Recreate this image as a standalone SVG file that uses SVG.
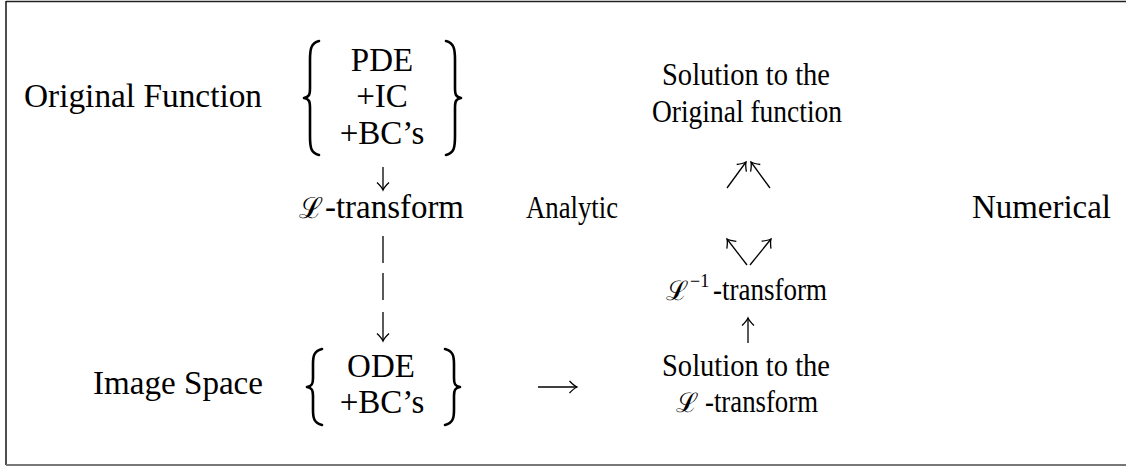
<svg xmlns="http://www.w3.org/2000/svg" width="1126" height="467" viewBox="0 0 1126 467">
<style>
text{font-family:"Liberation Serif","Times New Roman",serif;font-size:33px;fill:#000}
.mid{text-anchor:middle}
.sm{font-size:31px}
.cal{font-family:"DejaVu Serif","Liberation Serif",serif;font-size:29px}
.calsm{font-family:"DejaVu Serif","Liberation Serif",serif;font-size:27px}
.sup{font-size:18px}
.brace{fill:none;stroke:#000;stroke-width:2.6;stroke-linejoin:round;stroke-linecap:round}
.conn{fill:none;stroke:#000;stroke-width:1.3}
.frame{fill:none;stroke:#222;stroke-width:1.6}
</style>
<defs>
<marker id="cmhead" markerUnits="userSpaceOnUse" markerWidth="20" markerHeight="20" viewBox="-10 -10 20 20" refX="0" refY="0" orient="auto">
<path d="M-7.5,-6 Q-3,-1.3 0,0 Q-3,1.3 -7.5,6" fill="none" stroke="#000" stroke-width="1.3"/>
</marker>
</defs>
<rect width="1126" height="467" fill="#fff"/>
<g id="frame">
<path class="frame" d="M6,1.5 H1126 M6,1 V465"/>
<path d="M6,465 H1126" stroke="#777" stroke-width="2" fill="none"/>
</g>
<g id="original-function"><text x="24" y="107" textLength="238" lengthAdjust="spacingAndGlyphs">Original Function</text></g>
<g id="pde-system">
<path class="brace" d="M319,41 C311,43 310,49 310,60 L310,88 C310,95 309,97 304,98 C309,99 310,101 310,108 L310,136 C310,148 311,153 319,155"/>
<text class="mid" x="382" y="71">PDE</text>
<text class="mid" x="382" y="107">+IC</text>
<text class="mid" x="382" y="144">+BC’s</text>
<path class="brace" d="M446,41 C454,43 455,49 455,60 L455,88 C455,95 456,97 461,98 C456,99 455,101 455,108 L455,136 C455,148 454,153 446,155"/>
</g>
<g id="l-transform">
<text class="cal" x="299" y="218">ℒ</text>
<text x="325" y="218" textLength="139" lengthAdjust="spacingAndGlyphs">-transform</text>
</g>
<g id="analytic"><text class="sm" x="526" y="218" textLength="92" lengthAdjust="spacingAndGlyphs">Analytic</text></g>
<g id="numerical"><text x="972" y="218" textLength="139" lengthAdjust="spacingAndGlyphs">Numerical</text></g>
<g id="image-space"><text x="93" y="394" textLength="170" lengthAdjust="spacingAndGlyphs">Image Space</text></g>
<g id="ode-system">
<path class="brace" d="M322,349 C314,351 313,356 313,364 L313,378 C313,384 312,386 307,387 C312,388 313,390 313,396 L313,410 C313,418 314,423 322,425"/>
<text class="mid" x="381" y="377">ODE</text>
<text class="mid" x="382" y="413">+BC’s</text>
<path class="brace" d="M445,349 C453,351 454,356 454,364 L454,378 C454,384 455,386 460,387 C455,388 454,390 454,396 L454,410 C454,418 453,423 445,425"/>
</g>
<g id="solution-original">
<text class="sm mid" x="746" y="85" textLength="168" lengthAdjust="spacingAndGlyphs">Solution to the</text>
<text class="sm mid" x="747" y="122" textLength="190" lengthAdjust="spacingAndGlyphs">Original function</text>
</g>
<g id="inverse-transform">
<text class="calsm" x="666" y="300">ℒ</text>
<text class="sup" x="690" y="287">−1</text>
<text class="sm" x="713" y="300" textLength="114" lengthAdjust="spacingAndGlyphs">-transform</text>
</g>
<g id="solution-l">
<text class="sm mid" x="746" y="376" textLength="168" lengthAdjust="spacingAndGlyphs">Solution to the</text>
<text class="calsm" x="676" y="412">ℒ</text>
<text class="sm" x="705" y="412" textLength="113" lengthAdjust="spacingAndGlyphs">-transform</text>
</g>
<g id="connectors">
<path class="conn" d="M383,167 V190" marker-end="url(#cmhead)"/>
<path class="conn" d="M383,236 V263"/>
<path class="conn" d="M383,273 V300"/>
<path class="conn" d="M383,312 V341" marker-end="url(#cmhead)"/>
<path class="conn" d="M538,387 H577" marker-end="url(#cmhead)"/>
<path class="conn" d="M748,343 V318" marker-end="url(#cmhead)"/>
<path class="conn" d="M727,188 L746,162" marker-end="url(#cmhead)"/>
<path class="conn" d="M770,188 L751,162" marker-end="url(#cmhead)"/>
<path class="conn" d="M747,265 L727,239" marker-end="url(#cmhead)"/>
<path class="conn" d="M750,265 L771,239" marker-end="url(#cmhead)"/>
</g>
</svg>
